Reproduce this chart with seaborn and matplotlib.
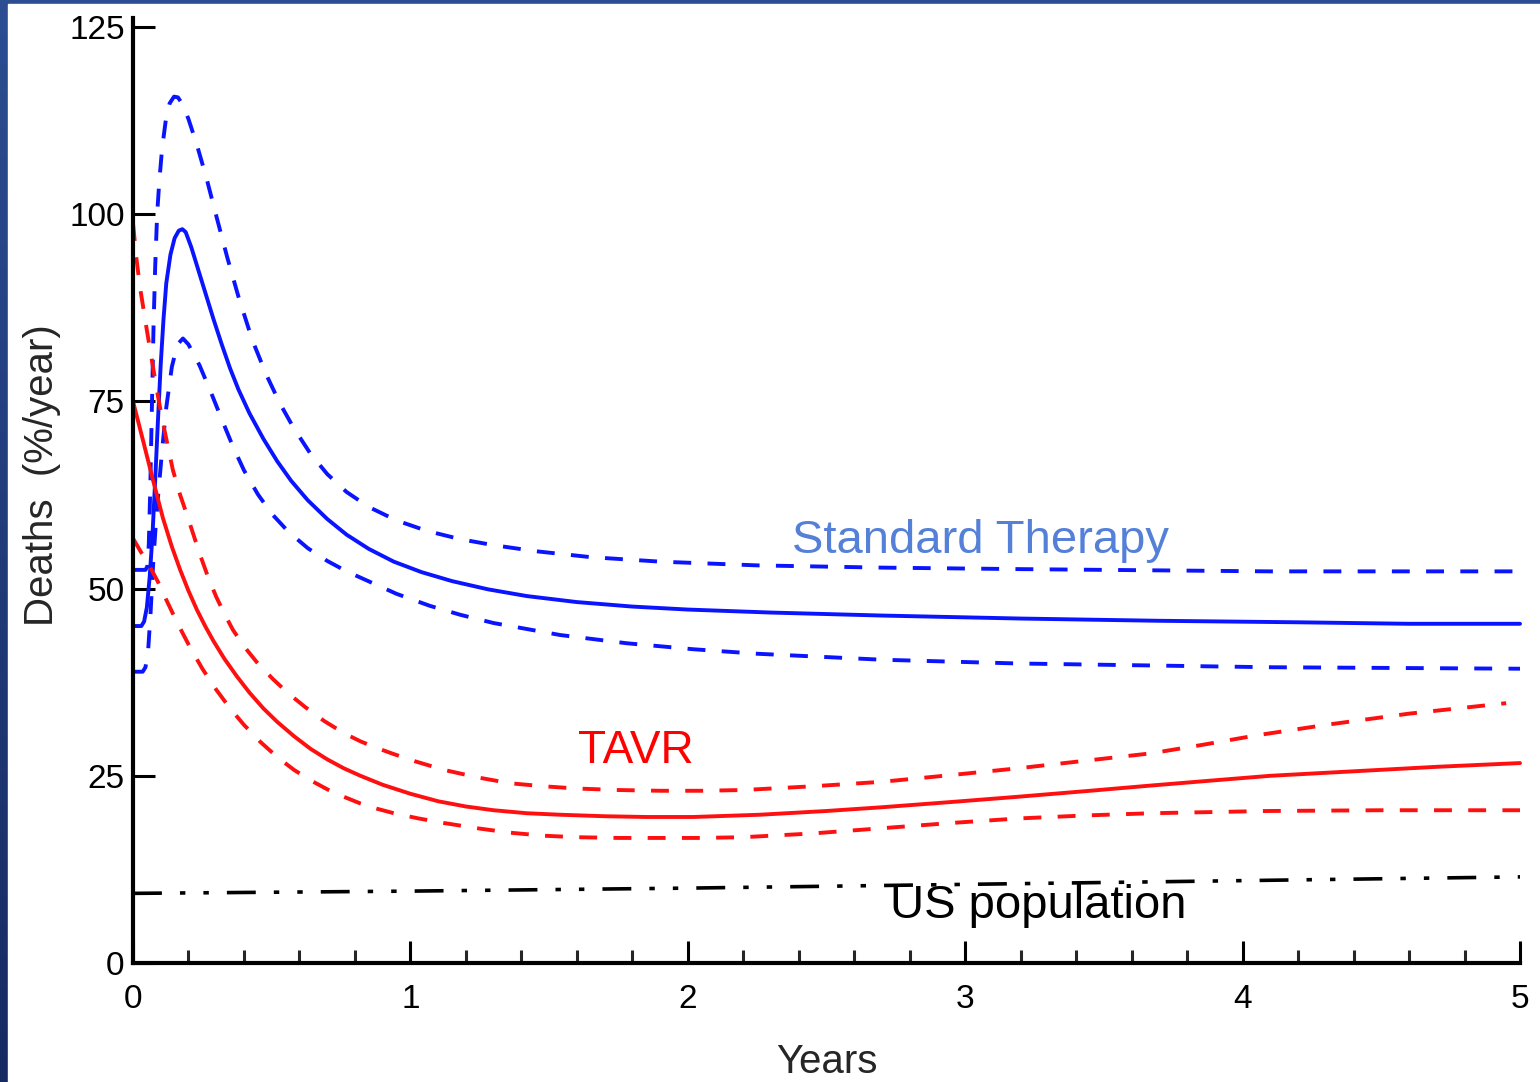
import numpy as np
import pandas as pd
import matplotlib
matplotlib.use("Agg")
import matplotlib.pyplot as plt
from matplotlib.patches import Rectangle
import seaborn as sns

# ---- data: deaths (%/year) versus years ----
std_x = [0.000, 0.030, 0.040, 0.050, 0.060, 0.070, 0.080, 0.090, 0.100, 0.110,
         0.120, 0.135, 0.150, 0.165, 0.178, 0.190, 0.210, 0.230, 0.260, 0.290,
         0.320, 0.350, 0.380, 0.420, 0.470, 0.520, 0.570, 0.630, 0.700, 0.770,
         0.850, 0.940, 1.040, 1.150, 1.280, 1.420, 1.600, 1.800, 2.000, 2.300,
         2.700, 3.200, 3.700, 4.200, 4.600, 5.000]
std_y = [45.0, 45.0, 45.6, 47.5, 51.5, 57.0, 64.5, 72.5, 80.0, 86.0,
         90.8, 94.6, 96.8, 97.8, 98.0, 97.6, 95.6, 93.2, 89.6, 86.0,
         82.6, 79.4, 76.6, 73.4, 70.0, 67.0, 64.4, 61.8, 59.3, 57.2,
         55.3, 53.6, 52.2, 51.0, 49.9, 49.0, 48.2, 47.6, 47.2, 46.8,
         46.4, 46.0, 45.7, 45.5, 45.3, 45.3]

std_hi_x = [0.000, 0.045, 0.052, 0.057, 0.062, 0.068, 0.074, 0.080, 0.087, 0.095,
            0.105, 0.118, 0.132, 0.148, 0.162, 0.180, 0.200, 0.230, 0.265, 0.300,
            0.340, 0.380, 0.430, 0.480, 0.530, 0.580, 0.640, 0.700, 0.770, 0.850,
            0.950, 1.060, 1.180, 1.300, 1.450, 1.650, 1.900, 2.250, 2.700, 3.200,
            4.100, 5.000]
std_hi_y = [52.5, 52.5, 53.0, 56.0, 63.0, 74.0, 85.0, 93.0, 100.0, 104.5,
            108.8, 112.5, 114.8, 115.7, 115.6, 114.6, 112.7, 109.3, 104.8, 99.8,
            94.2, 89.0, 83.2, 78.6, 74.7, 71.4, 68.0, 65.3, 62.9, 60.9,
            59.1, 57.7, 56.6, 55.8, 55.0, 54.2, 53.6, 53.1, 52.8, 52.6,
            52.3, 52.3]

std_lo_x = [0.000, 0.035, 0.045, 0.055, 0.063, 0.072, 0.082, 0.092, 0.105, 0.120,
            0.140, 0.160, 0.180, 0.200, 0.240, 0.280, 0.320, 0.360, 0.400, 0.450,
            0.500, 0.560, 0.630, 0.700, 0.770, 0.860, 0.950, 1.070, 1.180, 1.300,
            1.540, 1.780, 2.020, 2.250, 2.700, 3.190, 4.090, 5.000]
std_lo_y = [38.9, 38.9, 39.5, 42.0, 46.5, 52.9, 58.5, 63.0, 68.5, 74.2,
            79.6, 82.6, 83.4, 82.6, 79.8, 76.3, 72.6, 69.0, 65.8, 62.6,
            60.0, 57.6, 55.4, 53.7, 52.3, 50.8, 49.3, 47.7, 46.5, 45.4,
            43.8, 42.7, 41.9, 41.3, 40.5, 40.0, 39.5, 39.3]

tavr_x = [0.000, 0.036, 0.072, 0.108, 0.140, 0.170, 0.200, 0.230, 0.260, 0.290,
          0.330, 0.374, 0.420, 0.470, 0.520, 0.580, 0.640, 0.700, 0.760, 0.820,
          0.900, 1.000, 1.100, 1.200, 1.300, 1.420, 1.540, 1.700, 1.850, 2.020,
          2.260, 2.500, 2.700, 2.950, 3.190, 3.450, 3.670, 3.900, 4.100, 4.400,
          4.700, 5.000]
tavr_y = [75.0, 69.8, 64.5, 59.4, 55.6, 52.5, 49.7, 47.2, 45.0, 43.0,
          40.6, 38.3, 36.1, 34.0, 32.2, 30.3, 28.6, 27.2, 26.0, 25.0,
          23.8, 22.6, 21.6, 20.9, 20.4, 20.0, 19.8, 19.6, 19.5, 19.5,
          19.8, 20.3, 20.8, 21.5, 22.2, 23.0, 23.7, 24.4, 25.0, 25.6,
          26.2, 26.7]

tavr_hi_x = [0.000, 0.012, 0.025, 0.050, 0.072, 0.090, 0.108, 0.144, 0.170, 0.195,
             0.240, 0.270, 0.300, 0.330, 0.360, 0.400, 0.450, 0.505, 0.560, 0.620,
             0.690, 0.760, 0.820, 0.880, 0.940, 1.020, 1.120, 1.240, 1.360, 1.480,
             1.600, 1.750, 1.900, 2.050, 2.200, 2.450, 2.700, 2.950, 3.190, 3.430,
             3.670, 3.850, 4.050, 4.300, 4.600, 4.950]
tavr_hi_y = [98.8, 94.2, 90.3, 84.5, 79.6, 75.7, 72.1, 65.8, 62.5, 59.8,
             54.7, 51.6, 48.9, 46.6, 44.5, 42.3, 40.0, 37.9, 36.0, 34.2,
             32.3, 30.7, 29.6, 28.7, 27.9, 26.9, 25.8, 24.8, 24.0, 23.6,
             23.3, 23.1, 23.0, 23.0, 23.1, 23.6, 24.2, 25.1, 26.0, 27.0,
             28.0, 29.1, 30.4, 31.8, 33.3, 34.7]

tavr_lo_x = [0.000, 0.030, 0.061, 0.090, 0.120, 0.160, 0.205, 0.250, 0.300, 0.350,
             0.400, 0.460, 0.520, 0.580, 0.640, 0.700, 0.760, 0.820, 0.880, 0.940,
             1.030, 1.120, 1.240, 1.360, 1.480, 1.600, 1.750, 1.900, 2.050, 2.200,
             2.450, 2.700, 2.950, 3.190, 3.430, 3.670, 4.090, 4.500, 5.000]
tavr_lo_y = [56.7, 54.8, 52.9, 50.9, 48.5, 45.4, 42.2, 39.3, 36.5, 34.0,
             31.8, 29.5, 27.5, 25.8, 24.4, 23.2, 22.2, 21.3, 20.6, 20.0,
             19.3, 18.7, 18.0, 17.4, 17.0, 16.8, 16.7, 16.7, 16.7, 16.8,
             17.3, 18.0, 18.7, 19.3, 19.7, 20.0, 20.3, 20.4, 20.4]

us_x = [0, 1, 2, 3, 4, 5]
us_y = [9.3, 9.6, 10.0, 10.5, 11.0, 11.5]

x_ticks = [0, 1, 2, 3, 4, 5]
y_ticks = [0, 25, 50, 75, 100, 125]

# ---- styling ----
sns.set_style("ticks")
plt.rcParams["font.family"] = ["Liberation Sans", "DejaVu Sans"]

BLUE = "#0a14ff"
RED = "#ff1010"
LW = 2.8
DASH = (0, (4.6, 4.2))

fig = plt.figure(figsize=(15.4, 10.82), dpi=100)

# slide frame: navy strip along the top and left edges
bg = fig.add_axes([0, 0, 1, 1], zorder=-10)
grad = np.linspace(0, 1, 256).reshape(-1, 1)
bg.imshow(grad, cmap=matplotlib.colors.LinearSegmentedColormap.from_list(
    "navy", ["#2c4d92", "#162a62"]), aspect="auto", extent=[0, 1, 0, 1])
bg.add_patch(Rectangle((8 / 1540, 0), 1, 1 - 4 / 1082, color="white"))
bg.set_xlim(0, 1)
bg.set_ylim(0, 1)
bg.axis("off")

ax = fig.add_axes([133 / 1540, 119 / 1082, (1520 - 133) / 1540, 945 / 1082])
ax.set_facecolor("white")


def draw(xs, ys, color, ls, lw=LW):
    df = pd.DataFrame({"x": xs, "y": ys})
    sns.lineplot(data=df, x="x", y="y", ax=ax, color=color, linestyle=ls,
                 linewidth=lw, estimator=None, sort=False, clip_on=False,
                 solid_joinstyle="round", dash_joinstyle="round")


draw(std_hi_x, std_hi_y, BLUE, DASH)
draw(std_lo_x, std_lo_y, BLUE, DASH)
draw(std_x, std_y, BLUE, "-")
draw(tavr_hi_x, tavr_hi_y, RED, DASH)
draw(tavr_lo_x, tavr_lo_y, RED, DASH)
draw(tavr_x, tavr_y, RED, "-")
draw(us_x, us_y, "black", (0, (8, 5, 1.5, 5, 1.5, 5)), lw=2.6)

ax.set_xlim(0, 5)
ax.set_ylim(0, 126.2)
ax.set_xticks(x_ticks)
ax.set_xticks(np.arange(0, 5.01, 0.2), minor=True)
ax.set_yticks(y_ticks)
ax.set_xticklabels([str(v) for v in x_ticks])
ax.set_yticklabels([str(v) for v in y_ticks])

for side in ("top", "right"):
    ax.spines[side].set_visible(False)
for side in ("left", "bottom"):
    ax.spines[side].set_linewidth(3.0)
    ax.spines[side].set_color("black")

ax.tick_params(axis="x", which="major", direction="in", length=16, width=2.2,
               labelsize=24, pad=15, colors="black")
ax.tick_params(axis="x", which="minor", direction="in", length=9.5, width=2.2)
ax.tick_params(axis="y", which="major", direction="in", length=16, width=2.2,
               labelsize=24, pad=6, colors="black")

ax.set_xlabel("Years", fontsize=29, labelpad=20)
ax.set_ylabel("Deaths  (%/year)", fontsize=29)
ax.yaxis.set_label_coords(-0.052, 0.516)

ax.text(2.376, 54.7, "Standard Therapy", color="#5580d8", fontsize=34,
        va="baseline", ha="left")
ax.text(1.604, 26.7, "TAVR", color="#ff0000", fontsize=33,
        va="baseline", ha="left")
ax.text(2.729, 6.0, "US population", color="black", fontsize=34,
        va="baseline", ha="left")

fig.savefig("out.png", dpi=100)
